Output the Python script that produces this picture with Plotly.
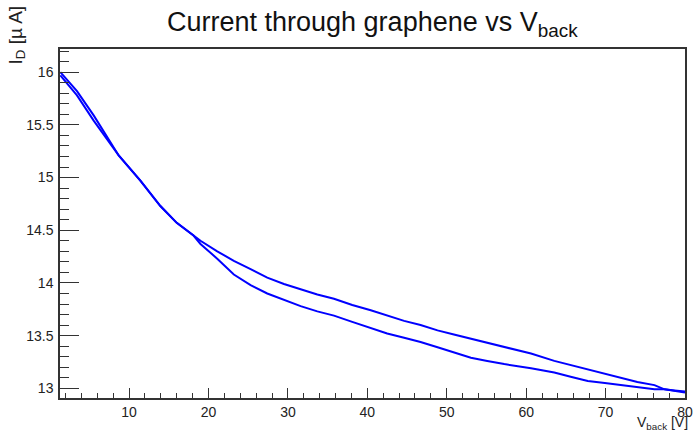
import plotly.graph_objects as go

# Back-gate voltage sweep (V) and drain current (uA)
v_back = [1.34, 3.44, 5.54, 8.69, 11.42, 13.94, 16.0, 18.11, 18.99, 21.10, 23.19,
          25.3, 27.40, 29.5, 31.60, 33.7, 35.80, 38.1, 40.43, 42.5, 44.63, 46.7,
          48.84, 50.9, 53.04, 55.1, 57.24, 60.61, 63.54, 65.6, 67.76, 69.9,
          71.96, 74.0, 76.15, 77.42, 78.7, 80.0]

i_sweep_a = [16.00, 15.82, 15.59, 15.21, 14.97, 14.73, 14.57, 14.45, 14.40, 14.30, 14.21,
             14.13, 14.05, 13.99, 13.94, 13.89, 13.85, 13.79, 13.74, 13.69, 13.64, 13.60,
             13.55, 13.51, 13.47, 13.43, 13.39, 13.33, 13.26, 13.22, 13.18, 13.14,
             13.10, 13.06, 13.03, 12.99, 12.98, 12.97]

i_sweep_b = [15.97, 15.78, 15.54, 15.21, 14.97, 14.73, 14.57, 14.45, 14.37, 14.23, 14.08,
             13.98, 13.90, 13.84, 13.78, 13.73, 13.69, 13.63, 13.57, 13.52, 13.48, 13.44,
             13.39, 13.34, 13.29, 13.26, 13.23, 13.19, 13.15, 13.11, 13.07, 13.05,
             13.03, 13.01, 12.99, 12.99, 12.975, 12.96]

x_range = [1.3, 80.0]
y_range = [12.908, 16.22]

FONT = "Liberation Sans, Arial, Helvetica, sans-serif"
AX = "#333333"

fig = go.Figure()
for ys in (i_sweep_a, i_sweep_b):
    fig.add_trace(go.Scatter(x=v_back, y=ys, mode="lines",
                             line=dict(color="#0000ff", width=2), showlegend=False))

W, H = 694, 431
L, R, T, B = 60, 9, 49, 33
plot_h = H - T - B
plot_w = W - L - R

def py2paper(py):
    return (H - B - py) / plot_h

def px2paper(px):
    return (px - L) / plot_w

fig.update_layout(
    width=W, height=H,
    margin=dict(l=L, r=R, t=T, b=B, autoexpand=False),
    paper_bgcolor="white", plot_bgcolor="white",
    font=dict(family=FONT, color="#222222"),
    xaxis=dict(range=x_range, showgrid=False, zeroline=False, automargin=False,
               showline=True, linecolor=AX, linewidth=1.5, mirror=True,
               ticks="inside", ticklen=10, tickwidth=1.2, tickcolor=AX,
               dtick=10, tick0=0, tickfont=dict(size=14, family=FONT, color="#222"),
               ticklabelstandoff=0,
               minor=dict(ticks="inside", ticklen=5, dtick=2, tick0=0, tickcolor=AX, tickwidth=1)),
    yaxis=dict(range=y_range, showgrid=False, zeroline=False, automargin=False,
               showline=True, linecolor=AX, linewidth=1.5, mirror=True,
               ticks="inside", ticklen=19, tickwidth=1.2, tickcolor=AX,
               dtick=0.5, tick0=0, tickfont=dict(size=14, family=FONT, color="#222"),
               ticklabelstandoff=2,
               minor=dict(ticks="inside", ticklen=9, dtick=0.1, tick0=0, tickcolor=AX, tickwidth=1)),
)

fig.add_annotation(text="Current through graphene vs V<sub>back</sub>",
                   xref="paper", yref="paper", x=0.5, y=py2paper(5),
                   xanchor="center", yanchor="top", showarrow=False,
                   font=dict(size=27, family=FONT, color="#111"))

fig.add_annotation(text="I<sub>D</sub> [µ A]", textangle=-90,
                   xref="paper", yref="paper", x=px2paper(2), y=py2paper(4),
                   xanchor="left", yanchor="top", showarrow=False,
                   font=dict(size=19, family=FONT, color="#222"))

fig.add_annotation(text="V<sub>back</sub> [V]",
                   xref="paper", yref="paper", x=px2paper(689), y=py2paper(413),
                   xanchor="right", yanchor="top", showarrow=False, borderpad=0,
                   font=dict(size=14, family=FONT, color="#222"))

fig.write_html("out.html", config={"displayModeBar": False},
               post_script="document.body.style.margin='0';document.body.style.padding='0';")
